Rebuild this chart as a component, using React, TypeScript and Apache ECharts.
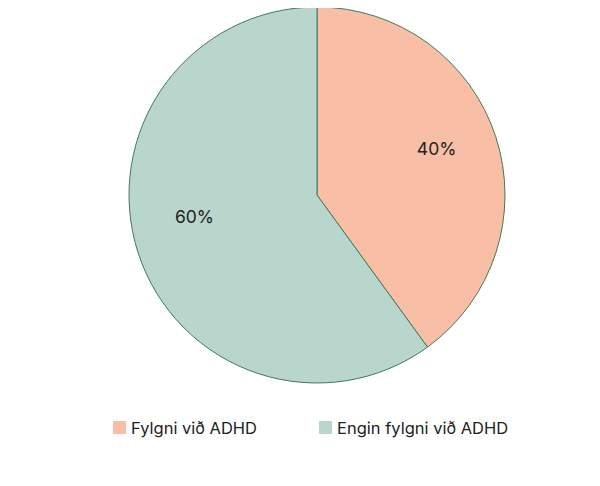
import React, { useEffect, useRef } from "react";
import * as echarts from "echarts";

const categories = ["Fylgni við ADHD", "Engin fylgni við ADHD"];
const values = [40, 60];
const colors = ["#F9BEA6", "#B8D6CC"];
const labelOffsets = [[-5, -6], [2, -19]];

export default function App() {
  const ref = useRef<HTMLDivElement>(null);
  useEffect(() => {
    const chart = echarts.init(ref.current!, null, { renderer: "svg" });
    const data = categories.map((name, i) => ({ name, value: values[i], itemStyle: { color: colors[i] } }));
    chart.setOption({
      animation: false,
      textStyle: { fontFamily: "Inter" },
      legend: {
        bottom: 37,
        left: 100,
        itemWidth: 13,
        itemHeight: 13,
        itemGap: 62,
        icon: "rect",
        itemStyle: { borderWidth: 0 },
        textStyle: { fontSize: 16.5, color: "#222", fontFamily: "Inter" },
        data: categories,
      },
      series: [
        {
          type: "pie",
          center: [309, 187],
          radius: [0, 188],
          startAngle: 90,
          clockwise: true,
          data,
          itemStyle: { borderColor: "#3F7A5A", borderWidth: 1 },
          label: { show: false },
          labelLine: { show: false },
          silent: true,
        },
        {
          type: "pie",
          center: [309, 187],
          radius: [0, 256],
          startAngle: 90,
          clockwise: true,
          data: categories.map((name, i) => ({
            name,
            value: values[i],
            itemStyle: { color: "rgba(0,0,0,0)" },
            label: { offset: labelOffsets[i] },
          })),
          itemStyle: { borderWidth: 0 },
          label: {
            show: true,
            position: "inside",
            formatter: "{c}%",
            fontSize: 17.5,
            color: "#222",
            fontFamily: "Inter",
          },
          labelLine: { show: false },
          silent: true,
          emphasis: { disabled: true },
        },
      ],
    });
    return () => chart.dispose();
  }, []);
  return <div ref={ref} style={{ width: 584, height: 470 }} />;
}
